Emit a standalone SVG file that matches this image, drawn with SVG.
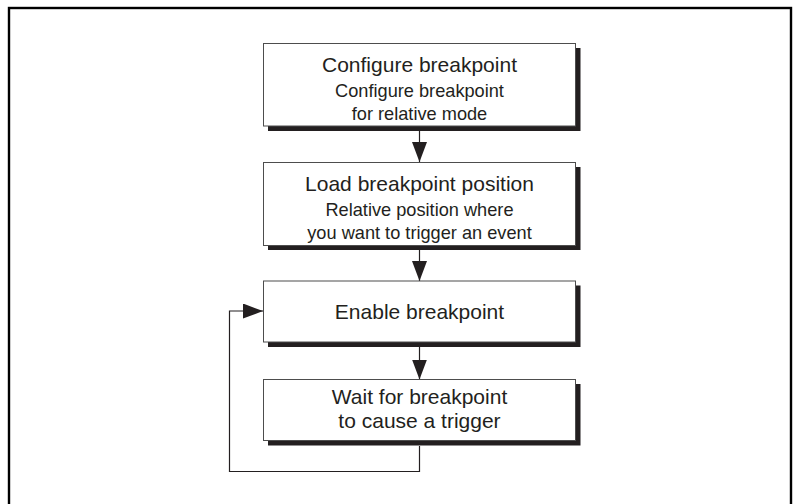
<svg xmlns="http://www.w3.org/2000/svg" width="799" height="504" viewBox="0 0 799 504">
<style>
.frame{fill:none;stroke:#000;stroke-width:2.4}
.shadow{fill:#231f20}
.box{fill:#fff;stroke:#4d4d4d;stroke-width:1}
.t{font-family:"Liberation Sans",Arial,sans-serif;fill:#231f20;text-anchor:middle}
.h{font-size:21px}
.s{font-size:18.2px}
.c{fill:none;stroke:#231f20;stroke-width:1.2}
</style>
<defs>
<marker id="ah" markerUnits="userSpaceOnUse" markerWidth="20" markerHeight="15" refX="20" refY="7.5" orient="auto">
<path d="M0,0 L20,7.5 L0,15 z" fill="#231f20"/>
</marker>
</defs>
<rect class="frame" x="9" y="8" width="782" height="520"/>
<g id="connectors">
<path class="c" d="M419.5 131 V162" marker-end="url(#ah)"/>
<path class="c" d="M419.5 250 V281" marker-end="url(#ah)"/>
<path class="c" d="M419.5 347 V379.5" marker-end="url(#ah)"/>
<path class="c" d="M419.5 446 V471.5 H229.5 V311 H263" marker-end="url(#ah)"/>
</g>
<g id="n1">
<rect class="shadow" x="268" y="48" width="312.5" height="83"/>
<rect class="box" x="263.5" y="43.5" width="312" height="82.5"/>
<text class="t h" x="419.5" y="71.5">Configure breakpoint</text>
<text class="t s" x="419.5" y="96.5">Configure breakpoint</text>
<text class="t s" x="419.5" y="120">for relative mode</text>
</g>
<g id="n2">
<rect class="shadow" x="268" y="167" width="312.5" height="83"/>
<rect class="box" x="263.5" y="162.5" width="312" height="83"/>
<text class="t h" x="419.5" y="190.5">Load breakpoint position</text>
<text class="t s" x="419.5" y="215.5">Relative position where</text>
<text class="t s" x="419.5" y="238.5">you want to trigger an event</text>
</g>
<g id="n3">
<rect class="shadow" x="268" y="285.5" width="312.5" height="61.5"/>
<rect class="box" x="263.5" y="281" width="312" height="61"/>
<text class="t h" x="419.5" y="319">Enable breakpoint</text>
</g>
<g id="n4">
<rect class="shadow" x="268" y="384" width="312.5" height="61.5"/>
<rect class="box" x="263.5" y="379.5" width="312" height="61"/>
<text class="t h" x="419.5" y="404">Wait for breakpoint</text>
<text class="t h" x="419.5" y="428">to cause a trigger</text>
</g>
</svg>
